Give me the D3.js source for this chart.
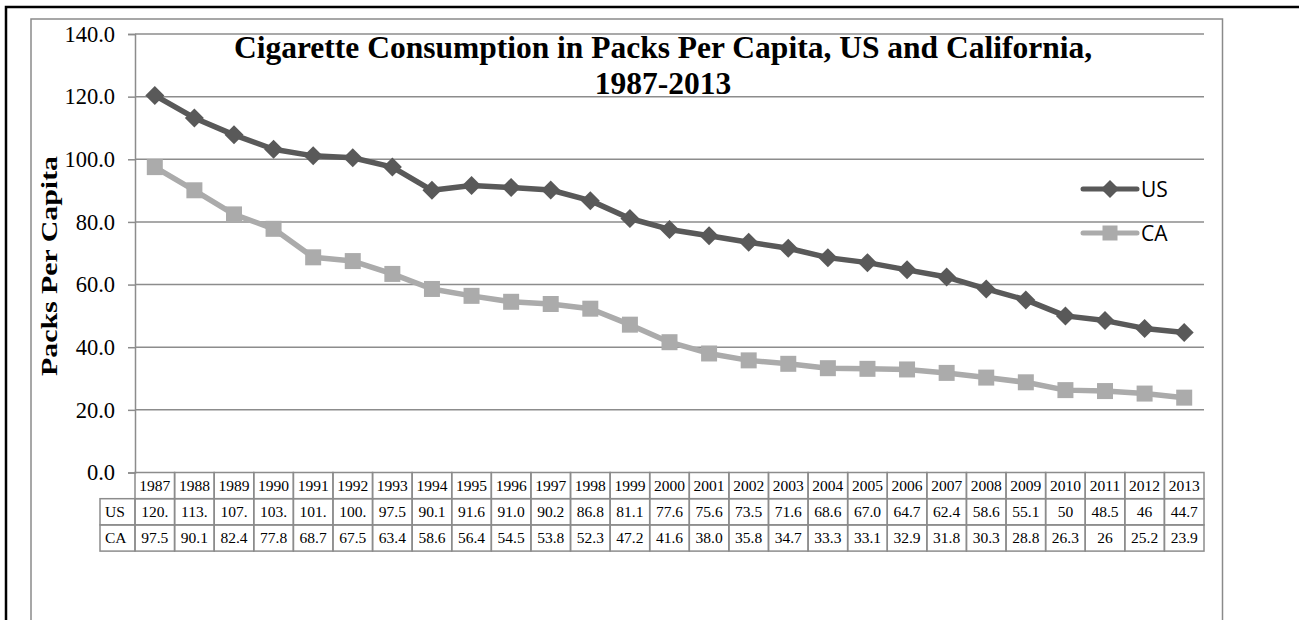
<!DOCTYPE html>
<html>
<head>
<meta charset="utf-8">
<script src="https://cdn.jsdelivr.net/npm/d3@7"></script>
<style>
  body { margin: 0; background: #fff; }
  svg { display: block; }
</style>
</head>
<body>
<div id="chart"></div>
<script>
// data
const years = [1987, 1988, 1989, 1990, 1991, 1992, 1993, 1994, 1995, 1996, 1997, 1998, 1999, 2000,
  2001, 2002, 2003, 2004, 2005, 2006, 2007, 2008, 2009, 2010, 2011, 2012, 2013];
const usValues = [120.4, 113.2, 107.8, 103.2, 101.1, 100.5, 97.5, 90.1, 91.6, 91.0, 90.2, 86.8, 81.1, 77.6,
  75.6, 73.5, 71.6, 68.6, 67.0, 64.7, 62.4, 58.6, 55.1, 50, 48.5, 46, 44.7];
const caValues = [97.5, 90.1, 82.4, 77.8, 68.7, 67.5, 63.4, 58.6, 56.4, 54.5, 53.8, 52.3, 47.2, 41.6,
  38.0, 35.8, 34.7, 33.3, 33.1, 32.9, 31.8, 30.3, 28.8, 26.3, 26, 25.2, 23.9];
// what the table cells show (Excel clips the wide US values)
const usLabels = ['120.', '113.', '107.', '103.', '101.', '100.', '97.5', '90.1', '91.6', '91.0', '90.2',
  '86.8', '81.1', '77.6', '75.6', '73.5', '71.6', '68.6', '67.0', '64.7', '62.4', '58.6', '55.1',
  '50', '48.5', '46', '44.7'];
const caLabels = ['97.5', '90.1', '82.4', '77.8', '68.7', '67.5', '63.4', '58.6', '56.4', '54.5', '53.8',
  '52.3', '47.2', '41.6', '38.0', '35.8', '34.7', '33.3', '33.1', '32.9', '31.8', '30.3', '28.8',
  '26.3', '26', '25.2', '23.9'];
const yTicks = [0, 20, 40, 60, 80, 100, 120, 140];

const series = [
  { name: 'US', values: usValues, labels: usLabels, color: '#595959', marker: 'diamond' },
  { name: 'CA', values: caValues, labels: caLabels, color: '#ababab', marker: 'square' },
];

const width = 1299;
const height = 620;
const plot = { left: 135, right: 1204, top: 34, bottom: 472.5 };
const rowH = 26.2;
const serif = '"Liberation Serif", "Times New Roman", serif';
const grid = '#8c8c8c';

const svg = d3.select('#chart')
  .append('svg')
  .attr('width', width)
  .attr('height', height);

// frames
svg.append('rect')
  .attr('x', 6).attr('y', 7)
  .attr('width', 1320).attr('height', 700)
  .attr('fill', 'none')
  .attr('stroke', '#000')
  .attr('stroke-width', 2.5);

svg.append('rect')
  .attr('x', 31).attr('y', 19)
  .attr('width', 1191.5).attr('height', 700)
  .attr('fill', 'none')
  .attr('stroke', '#8a8a8a')
  .attr('stroke-width', 1.5);

// scales
const x = d3.scaleBand()
  .domain(years)
  .range([plot.left, plot.right]);
const xc = (yr) => x(yr) + x.bandwidth() / 2;

const y = d3.scaleLinear()
  .domain([0, 140])
  .range([plot.bottom, plot.top]);

// gridlines
svg.append('g')
  .attr('class', 'grid')
  .selectAll('line')
  .data(yTicks.filter((d) => d > 0))
  .join('line')
  .attr('x1', plot.left).attr('x2', plot.right)
  .attr('y1', (d) => y(d)).attr('y2', (d) => y(d))
  .attr('stroke', grid)
  .attr('stroke-width', 1.5);

// y axis
const yAxis = d3.axisLeft(y)
  .tickValues(yTicks)
  .tickFormat(d3.format('.1f'))
  .tickSize(7)
  .tickPadding(13);

const gy = svg.append('g')
  .attr('class', 'axis axis-y')
  .attr('transform', `translate(${plot.left},0)`)
  .call(yAxis);
gy.select('.domain').attr('stroke', grid).attr('stroke-width', 1.5);
gy.selectAll('.tick line').attr('stroke', grid).attr('stroke-width', 1.5);
gy.selectAll('.tick text')
  .attr('fill', '#000')
  .style('font-family', serif)
  .style('font-size', '22.5px');

svg.append('text')
  .attr('transform', `translate(57,266) rotate(-90)`)
  .attr('text-anchor', 'middle')
  .attr('textLength', 220)
  .attr('lengthAdjust', 'spacingAndGlyphs')
  .style('font-family', serif)
  .style('font-size', '24px')
  .style('font-weight', 'bold')
  .text('Packs Per Capita');

// title
const title = svg.append('text')
  .attr('text-anchor', 'middle')
  .style('font-family', serif)
  .style('font-size', '31.5px')
  .style('font-weight', 'bold');
title.append('tspan').attr('x', 663).attr('y', 58).text('Cigarette Consumption in Packs Per Capita, US and California,');
title.append('tspan').attr('x', 663).attr('y', 94).text('1987-2013');

// lines and markers
const markerPath = (type, s) => (type === 'diamond'
  ? `M0,${-s}L${s},0L0,${s}L${-s},0Z`
  : `M${-s},${-s}H${s}V${s}H${-s}Z`);

const line = d3.line()
  .x((d, i) => xc(years[i]))
  .y((d) => y(d));

const gSeries = svg.append('g')
  .attr('class', 'series')
  .selectAll('g')
  .data(series.slice().reverse())
  .join('g');

gSeries.append('path')
  .attr('fill', 'none')
  .attr('stroke', (d) => d.color)
  .attr('stroke-width', 5.5)
  .attr('stroke-linejoin', 'round')
  .attr('d', (d) => line(d.values));

gSeries.selectAll('.marker')
  .data((d) => d.values.map((v, i) => ({ v, yr: years[i], s: d })))
  .join('path')
  .attr('class', 'marker')
  .attr('fill', (d) => d.s.color)
  .attr('transform', (d) => `translate(${xc(d.yr)},${y(d.v)})`)
  .attr('d', (d) => markerPath(d.s.marker, d.s.marker === 'diamond' ? 9.5 : 8));

// legend
const legend = svg.append('g')
  .attr('class', 'legend')
  .selectAll('g')
  .data(series)
  .join('g')
  .attr('transform', (d, i) => `translate(1083,${189 + i * 44})`);

legend.append('line')
  .attr('x1', 0).attr('x2', 54)
  .attr('stroke', (d) => d.color)
  .attr('stroke-width', 5)
  .attr('stroke-linecap', 'round');

legend.append('path')
  .attr('transform', 'translate(27,0)')
  .attr('fill', (d) => d.color)
  .attr('d', (d) => markerPath(d.marker, d.marker === 'diamond' ? 9 : 7.5));

legend.append('text')
  .attr('x', 58)
  .attr('dy', '0.36em')
  .style('font-family', '"Open Sans", "Liberation Sans", sans-serif')
  .style('font-size', '21px')
  .text((d) => d.name);

// data table
const gTable = svg.append('g').attr('class', 'table');
const rowsTop = plot.bottom;
const labelLeft = 100;
const tableFont = '15.5px';

const cellStroke = (sel) => sel
  .attr('fill', 'none')
  .attr('stroke', grid)
  .attr('stroke-width', 1.5);

// header row
gTable.selectAll('.hdr-cell')
  .data(years)
  .join('rect')
  .attr('class', 'hdr-cell')
  .attr('x', (d) => x(d))
  .attr('y', rowsTop)
  .attr('width', x.bandwidth())
  .attr('height', rowH)
  .call(cellStroke);

gTable.selectAll('.hdr-text')
  .data(years)
  .join('text')
  .attr('class', 'hdr-text')
  .attr('x', (d) => xc(d))
  .attr('y', rowsTop + rowH / 2)
  .attr('dy', '0.35em')
  .attr('text-anchor', 'middle')
  .style('font-family', serif)
  .style('font-size', tableFont)
  .text((d) => d);

// value rows
const rows = gTable.selectAll('.row')
  .data(series)
  .join('g')
  .attr('class', 'row')
  .attr('transform', (d, i) => `translate(0,${rowsTop + rowH * (i + 1)})`);

rows.append('rect')
  .attr('x', labelLeft)
  .attr('width', plot.left - labelLeft)
  .attr('height', rowH)
  .call(cellStroke);

rows.append('text')
  .attr('x', labelLeft + 5)
  .attr('y', rowH / 2)
  .attr('dy', '0.35em')
  .style('font-family', serif)
  .style('font-size', tableFont)
  .text((d) => d.name);

rows.selectAll('.cell')
  .data((d) => d.labels.map((t, i) => ({ t, yr: years[i] })))
  .join('rect')
  .attr('class', 'cell')
  .attr('x', (d) => x(d.yr))
  .attr('width', x.bandwidth())
  .attr('height', rowH)
  .call(cellStroke);

rows.selectAll('.cell-text')
  .data((d) => d.labels.map((t, i) => ({ t, yr: years[i] })))
  .join('text')
  .attr('class', 'cell-text')
  .attr('x', (d) => xc(d.yr))
  .attr('y', rowH / 2)
  .attr('dy', '0.35em')
  .attr('text-anchor', 'middle')
  .style('font-family', serif)
  .style('font-size', tableFont)
  .text((d) => d.t);
</script>
</body>
</html>
